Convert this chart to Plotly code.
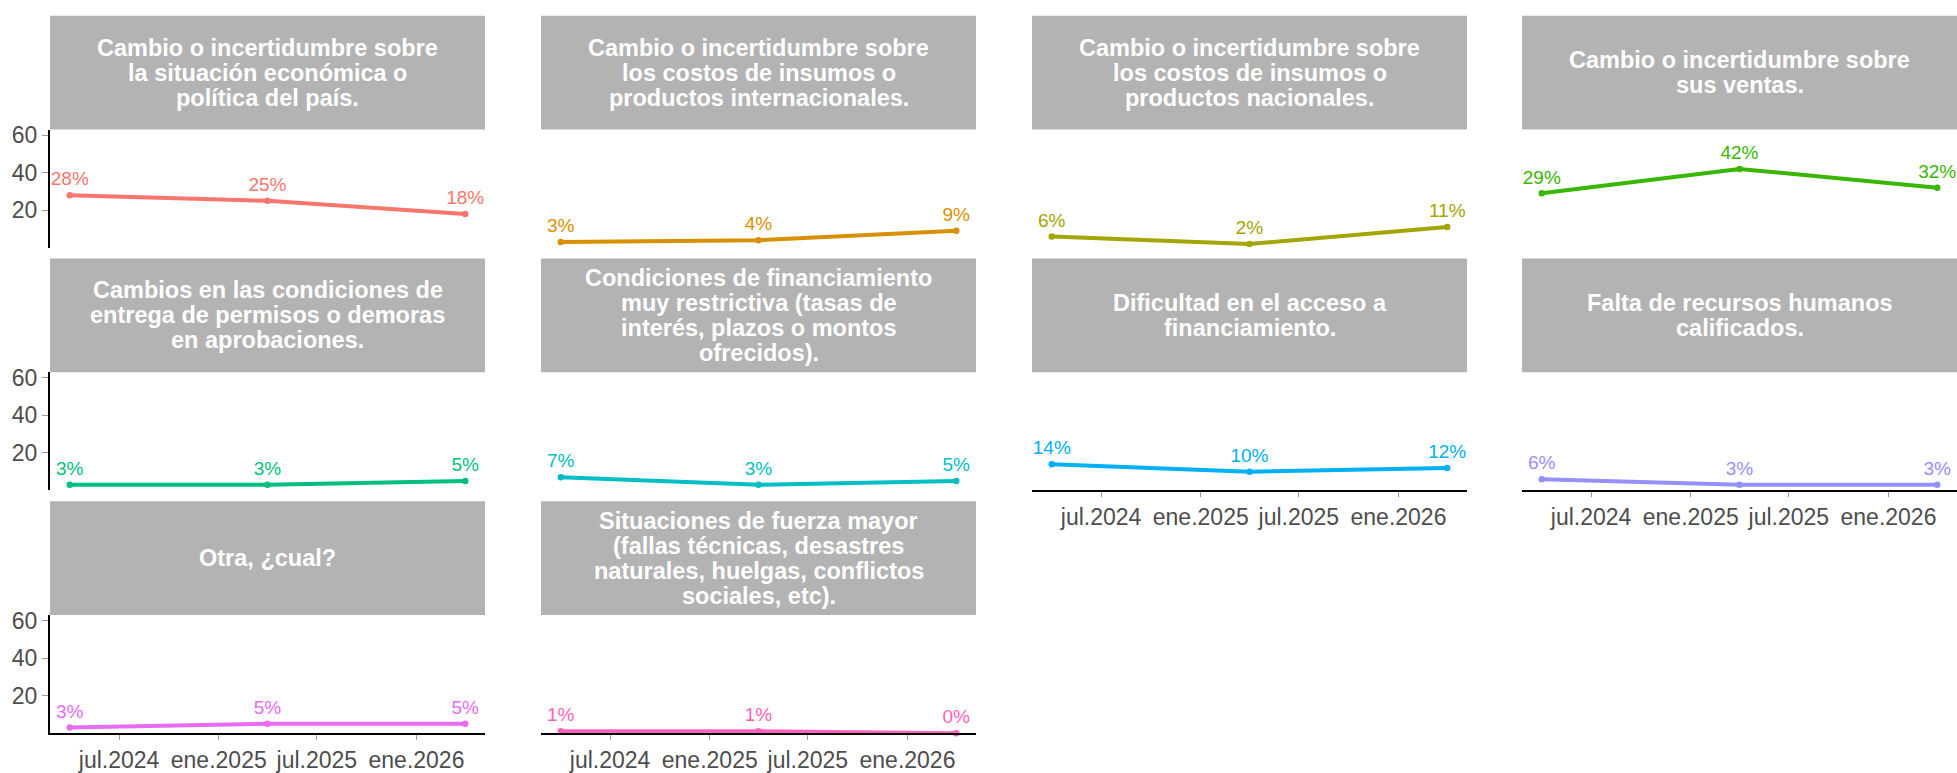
import plotly.graph_objects as go
import pandas as pd

# ---------------- data ----------------
fechas = ["2024-04-01", "2025-04-01", "2026-04-01"]

categorias = [
    "Cambio o incertidumbre sobre\nla situación económica o\npolítica del país.",
    "Cambio o incertidumbre sobre\nlos costos de insumos o\nproductos internacionales.",
    "Cambio o incertidumbre sobre\nlos costos de insumos o\nproductos nacionales.",
    "Cambio o incertidumbre sobre\nsus ventas.",
    "Cambios en las condiciones de\nentrega de permisos o demoras\nen aprobaciones.",
    "Condiciones de financiamiento\nmuy restrictiva (tasas de\ninterés, plazos o montos\nofrecidos).",
    "Dificultad en el acceso a\nfinanciamiento.",
    "Falta de recursos humanos\ncalificados.",
    "Otra, ¿cual?",
    "Situaciones de fuerza mayor\n(fallas técnicas, desastres\nnaturales, huelgas, conflictos\nsociales, etc).",
]

economica = [28, 25, 18]
internacionales = [3, 4, 9]
nacionales = [6, 2, 11]
ventas = [29, 42, 32]
permisos = [3, 3, 5]
financiamiento_restrictivo = [7, 3, 5]
acceso_financiamiento = [14, 10, 12]
recursos_humanos = [6, 3, 3]
otra = [3, 5, 5]
fuerza_mayor = [1, 1, 0]

series = [economica, internacionales, nacionales, ventas, permisos,
          financiamiento_restrictivo, acceso_financiamiento, recursos_humanos,
          otra, fuerza_mayor]

colores = ["#F8766D", "#D89000", "#A3A500", "#39B600", "#00BF7D",
           "#00BFC4", "#00B0F6", "#9590FF", "#E76BF3", "#FF62BC"]

tick_fechas = ["2024-07-01", "2025-01-01", "2025-07-01", "2026-01-01"]
tick_textos = ["jul.2024", "ene.2025", "jul.2025", "ene.2026"]
y_ticks = [20, 40, 60]

# ---------------- layout geometry ----------------
W, H = 1957, 773
FONT = "Liberation Sans, Arial, sans-serif"
col_x = [50, 541, 1032, 1522]
panel_w = 435
strip_top = [9, 256.5, 504]
strip_h = 116
panel_h = 120.5
line_gap = 25.5

d = pd.to_datetime(fechas)
span = d.max() - d.min()
x_range = [(d.min() - span * 0.05).strftime("%Y-%m-%d %H:%M"),
           (d.max() + span * 0.05).strftime("%Y-%m-%d %H:%M")]
y_range = [0, 63]

bottom_panels = {6, 7, 8, 9}

fig = go.Figure()
shapes = []
annotations = []
layout_axes = {}

for i, (cat, vals, col) in enumerate(zip(categorias, series, colores)):
    r, c = divmod(i, 4)
    x0 = col_x[c]
    x1 = min(x0 + panel_w, W)
    sy0 = strip_top[r]
    sy1 = sy0 + strip_h
    py0 = sy1
    py1 = py0 + panel_h

    sfx = "" if i == 0 else str(i + 1)
    fig.add_trace(go.Scatter(
        x=fechas, y=vals, mode="lines+markers+text",
        line=dict(color=col, width=4),
        marker=dict(color=col, size=6.5),
        text=[f"{round(v)}%" for v in vals],
        textposition="top center",
        textfont=dict(color=col, size=19, family=FONT),
        cliponaxis=False, showlegend=False, hoverinfo="skip",
        xaxis="x" + sfx, yaxis="y" + sfx,
    ))

    is_bottom = i in bottom_panels
    xa = dict(domain=[x0 / W, x1 / W], anchor="y" + sfx, range=x_range,
              type="date", showgrid=False, zeroline=False,
              showline=is_bottom, linecolor="black", linewidth=2,
              ticks="outside" if is_bottom else "", ticklen=5,
              tickcolor="#9a9a9a", tickwidth=1,
              tickmode="array", tickvals=tick_fechas, ticktext=tick_textos,
              showticklabels=is_bottom,
              tickfont=dict(size=23, color="#4D4D4D", family=FONT))
    is_left = c == 0
    ya = dict(domain=[1 - py1 / H, 1 - py0 / H], anchor="x" + sfx,
              range=y_range, showgrid=False, zeroline=False,
              showline=is_left, linecolor="black", linewidth=2,
              ticks="outside" if is_left else "", ticklen=6,
              tickcolor="#9a9a9a", tickwidth=1,
              tickmode="array", tickvals=y_ticks,
              showticklabels=is_left,
              tickfont=dict(size=23, color="#4D4D4D", family=FONT))
    layout_axes["xaxis" + sfx] = xa
    layout_axes["yaxis" + sfx] = ya

    shapes.append(dict(type="rect", xref="paper", yref="paper",
                       x0=x0 / W, x1=x1 / W, y0=1 - sy1 / H, y1=1 - sy0 / H,
                       fillcolor="#B3B3B3", line=dict(width=0), layer="below"))
    lines = cat.split("\n")
    n = len(lines)
    cy = (sy0 + sy1) / 2
    for k, ln in enumerate(lines):
        ly = cy + (k - (n - 1) / 2) * line_gap
        annotations.append(dict(
            text=f"<b>{ln}</b>", xref="paper", yref="paper",
            x=(x0 + x1) / 2 / W, y=1 - ly / H, xanchor="center", yanchor="middle",
            showarrow=False, font=dict(size=23.5, color="white", family=FONT)))

fig.update_layout(
    width=W, height=H,
    margin=dict(l=0, r=0, t=0, b=0),
    paper_bgcolor="white", plot_bgcolor="white",
    shapes=shapes, annotations=annotations,
    font=dict(family=FONT),
    **layout_axes,
)

fig.write_html(
    "out.html",
    config={"displayModeBar": False},
    post_script="document.body.style.margin='0px';document.body.style.overflow='hidden';",
)
